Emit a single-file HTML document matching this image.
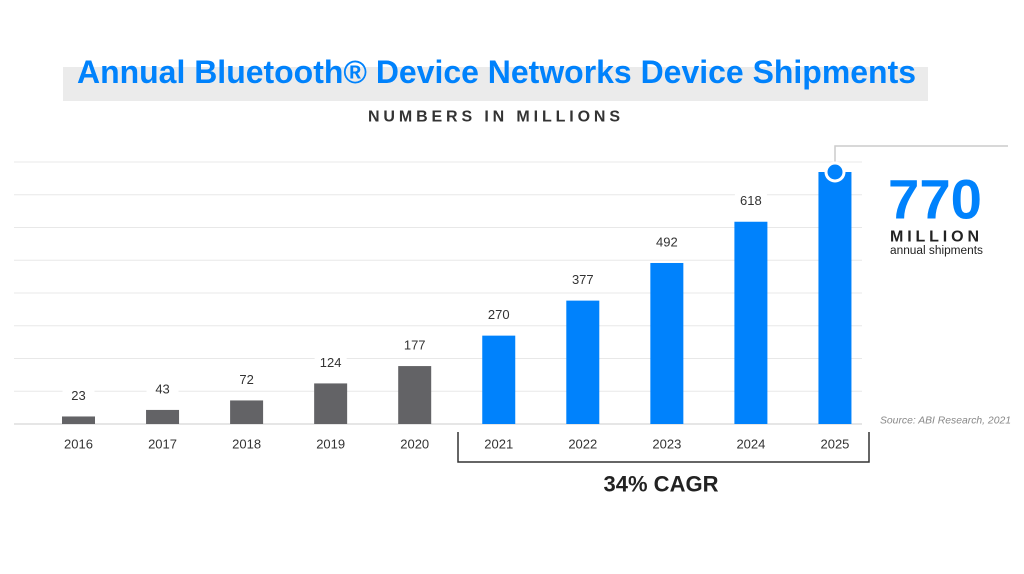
<!DOCTYPE html>
<html><head><meta charset="utf-8"><style>
body{margin:0;background:#fff;font-family:"Liberation Sans",sans-serif}
</style></head><body>
<svg width="1024" height="569" viewBox="0 0 1024 569" id="c">
<rect x="63" y="67" width="865" height="34" fill="#ebebeb"/>
<text x="77" y="83" textLength="839" lengthAdjust="spacingAndGlyphs" font-size="32" font-weight="bold" fill="#0082fc">Annual Bluetooth® Device Networks Device Shipments</text>
<text x="368" y="117" textLength="252" lengthAdjust="spacing" dominant-baseline="central" font-size="16" font-weight="bold" fill="#333">NUMBERS IN MILLIONS</text>
<g id="grid"></g><g id="bars"></g>
<polyline points="835,165 835,146 1008,146" fill="none" stroke="#ccc" stroke-width="1.5"/>
<circle cx="835" cy="172" r="9" fill="#0082fc" stroke="#fff" stroke-width="3"/>
<text x="888" y="199" textLength="94" lengthAdjust="spacingAndGlyphs" dominant-baseline="central" font-size="56" font-weight="bold" fill="#0082fc">770</text>
<text x="890" y="237" textLength="89" lengthAdjust="spacing" dominant-baseline="central" font-size="16" font-weight="bold" fill="#222">MILLION</text>
<text x="890" y="251" textLength="93" lengthAdjust="spacingAndGlyphs" dominant-baseline="central" font-size="11.5" fill="#222">annual shipments</text>
<text x="880" y="421" textLength="131" lengthAdjust="spacingAndGlyphs" dominant-baseline="central" font-size="10" font-style="italic" fill="#888">Source: ABI Research, 2021</text>
<polyline points="458,432 458,462 869,462 869,432" fill="none" stroke="#333" stroke-width="1.5"/>
<text x="661" y="484" text-anchor="middle" dominant-baseline="central" font-size="22" font-weight="bold" fill="#222">34% CAGR</text>
</svg>
<script>
const years=["2016","2017","2018","2019","2020","2021","2022","2023","2024","2025"];
const values=[23,43,72,124,177,270,377,492,618,770];
const forecast=[false,false,false,false,false,true,true,true,true,true];
const NS="http://www.w3.org/2000/svg";
const base=424,scale=252/770,x0=78.5,step=84.05,bw=33;
const xPos=i=>x0+i*step, yPos=v=>base-v*scale;
function mk(t,a){const e=document.createElementNS(NS,t);for(const k in a)e.setAttribute(k,a[k]);return e;}
const g=document.getElementById('grid'),b=document.getElementById('bars');
for(let k=0;k<9;k++){const y=base-k*32.75;
const l=mk('line',{x1:14,x2:862,y1:y,y2:y,stroke:k==0?'#ddd':'#e8e8e8','stroke-width':k==0?1.5:1});


g.appendChild(l);}
values.forEach((v,i)=>{const cx=xPos(i),c=forecast[i]?'#0082fc':'#636366';
const r=mk('rect',{x:cx-bw/2,y:yPos(v),width:bw,height:v*scale,fill:c});


b.appendChild(r);
const xl=mk('text',{x:cx,y:444,'text-anchor':'middle','dominant-baseline':'central','font-size':13,fill:'#333'});
xl.textContent=years[i];


b.appendChild(xl);
if(i<9){const ly=yPos(v)-21;
const bg=mk('rect',{x:cx-16,y:ly-8,width:32,height:16,fill:'#fff'});


b.appendChild(bg);
const t=mk('text',{x:cx,y:ly,'text-anchor':'middle','dominant-baseline':'central','font-size':13,fill:'#333'});
t.textContent=v;


b.appendChild(t);}
});
</script>
</body></html>
